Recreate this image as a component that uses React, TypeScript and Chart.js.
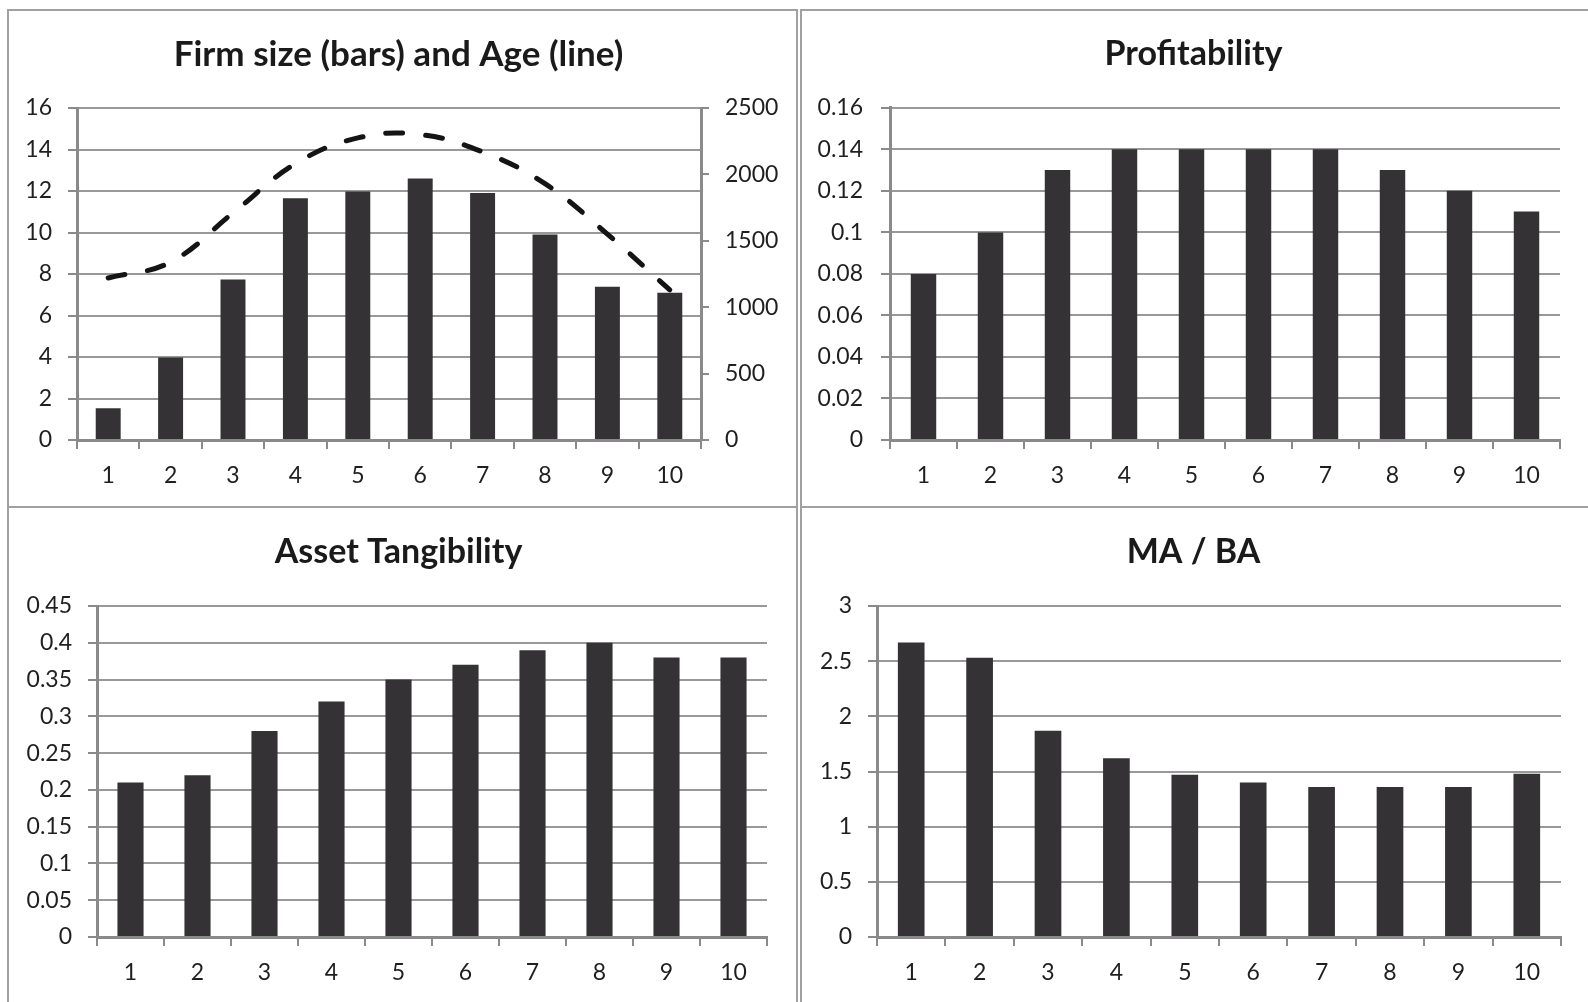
import React, { useEffect, useRef } from 'react';
import { Chart, registerables } from 'chart.js';

Chart.register(...registerables);

// ---------- data ----------
const categories = ['1', '2', '3', '4', '5', '6', '7', '8', '9', '10'];

const firmSize = [1.53, 3.97, 7.74, 11.65, 11.97, 12.6, 11.9, 9.9, 7.39, 7.1];
const firmAge = [1220, 1340, 1710, 2080, 2275, 2300, 2170, 1930, 1550, 1130];
const profitability = [0.08, 0.1, 0.13, 0.14, 0.14, 0.14, 0.14, 0.13, 0.12, 0.11];
const tangibility = [0.21, 0.22, 0.28, 0.32, 0.35, 0.37, 0.39, 0.4, 0.38, 0.38];
const maBa = [2.67, 2.53, 1.87, 1.62, 1.47, 1.4, 1.36, 1.36, 1.36, 1.48];

const titles = ['Firm size (bars) and Age (line)', 'Profitability', 'Asset Tangibility', 'MA / BA'];

// axis ranges: [min, max, step]
const sizeAxis = [0, 16, 2];
const ageAxis = [0, 2500, 500];
const profitAxis = [0, 0.16, 0.02];
const tangAxis = [0, 0.45, 0.05];
const mabaAxis = [0, 3, 0.5];

// ---------- styles ----------
const FONT = 'Lato, "Open Sans", sans-serif';
const BAR_COLOR = '#343235';
const GRID_COLOR = '#999999';
const AXIS_COLOR = '#8a8a8a';
const TEXT_COLOR = '#1f1f1f';
const BORDER_COLOR = '#a0a0a0';
const TITLE_SIZE = 34;
const TICK_SIZE = 23;

const fmt = (v: number | string) => String(Number(Number(v).toFixed(4)));

type PanelSpec = {
  left: number;
  top: number;
  w: number;
  h: number;
  leftW: number;
  rightW: number;
  xH: number;
  titleTop: number;
  titleBottom: number;
  titleSize: number;
  yPad: number;
  barPct: number;
  title: string;
  values: number[];
  axis: number[];
  line?: number[];
  lineAxis?: number[];
};

function makeConfig(p: PanelSpec): any {
  const tickFont = { family: FONT, size: TICK_SIZE };
  const datasets: any[] = [
    {
      type: 'bar',
      data: p.values,
      backgroundColor: BAR_COLOR,
      borderWidth: 0,
      categoryPercentage: 1,
      barPercentage: p.barPct,
      yAxisID: 'y',
      order: 1,
    },
  ];
  if (p.line) {
    datasets.push({
      type: 'line',
      data: p.line,
      borderColor: '#141414',
      borderWidth: 5,
      borderDash: [17, 23],
      borderCapStyle: 'round',
      pointRadius: 0,
      tension: 0.4,
      fill: false,
      yAxisID: 'y1',
      order: 0,
    });
  }
  const scales: any = {
    x: {
      type: 'category',
      offset: true,
      grid: {
        offset: true,
        drawOnChartArea: false,
        drawTicks: true,
        tickLength: 9,
        color: AXIS_COLOR,
        lineWidth: 2,
      },
      border: { display: true, color: AXIS_COLOR, width: 3 },
      ticks: { font: tickFont, color: TEXT_COLOR, padding: 13, maxRotation: 0, autoSkip: false },
      afterFit: (s: any) => {
        s.height = p.xH;
      },
    },
    y: {
      type: 'linear',
      position: 'left',
      min: p.axis[0],
      max: p.axis[1],
      grid: { color: GRID_COLOR, lineWidth: 2, drawTicks: true, tickLength: 9, tickColor: AXIS_COLOR },
      border: { display: true, color: AXIS_COLOR, width: 3 },
      ticks: {
        stepSize: p.axis[2],
        font: tickFont,
        color: TEXT_COLOR,
        padding: p.yPad,
        callback: (v: any) => fmt(v),
      },
      afterFit: (s: any) => {
        s.width = p.leftW;
      },
    },
  };
  if (p.line && p.lineAxis) {
    scales.y1 = {
      type: 'linear',
      position: 'right',
      min: p.lineAxis[0],
      max: p.lineAxis[1],
      grid: { drawOnChartArea: false, drawTicks: true, tickLength: 8, color: AXIS_COLOR, lineWidth: 2 },
      border: { display: true, color: AXIS_COLOR, width: 3 },
      ticks: {
        stepSize: p.lineAxis[2],
        font: tickFont,
        color: TEXT_COLOR,
        padding: 16,
        callback: (v: any) => fmt(v),
      },
      afterFit: (s: any) => {
        s.width = p.rightW;
      },
    };
  } else {
    scales.yR = {
      type: 'linear',
      position: 'right',
      display: true,
      grid: { display: false, drawTicks: false },
      border: { display: false },
      ticks: { display: false },
      afterFit: (s: any) => {
        s.width = p.rightW;
      },
    };
  }
  return {
    type: 'bar',
    data: { labels: categories, datasets },
    options: {
      responsive: false,
      animation: false,
      devicePixelRatio: 1,
      layout: { padding: 0 },
      plugins: {
        legend: { display: false },
        tooltip: { enabled: false },
        title: {
          display: true,
          text: p.title,
          color: '#1a1a1a',
          font: { family: FONT, size: p.titleSize, weight: 'bold', lineHeight: 1.2 },
          padding: { top: p.titleTop, bottom: p.titleBottom },
        },
      },
      scales,
    },
  };
}

function Panel({ spec }: { spec: PanelSpec }) {
  const ref = useRef<HTMLCanvasElement | null>(null);
  useEffect(() => {
    if (!ref.current) return;
    const chart = new Chart(ref.current, makeConfig(spec));
    return () => chart.destroy();
  }, [spec]);
  return (
    <canvas
      ref={ref}
      width={spec.w}
      height={spec.h}
      style={{ position: 'absolute', left: spec.left, top: spec.top, width: spec.w, height: spec.h }}
    />
  );
}

const panels: PanelSpec[] = [
  {
    left: 0, top: 0, w: 797, h: 507,
    leftW: 77, rightW: 96, xH: 67, titleTop: 33.5, titleBottom: 32.5, titleSize: 35, yPad: 16, barPct: 0.4,
    title: titles[0], values: firmSize, axis: sizeAxis, line: firmAge, lineAxis: ageAxis,
  },
  {
    left: 799, top: 0, w: 789, h: 507,
    leftW: 91, rightW: 28, xH: 67, titleTop: 34, titleBottom: 33, titleSize: TITLE_SIZE, yPad: 18, barPct: 0.38,
    title: titles[1], values: profitability, axis: profitAxis,
  },
  {
    left: 0, top: 507, w: 797, h: 495,
    leftW: 97, rightW: 30, xH: 65, titleTop: 25, titleBottom: 33.2, titleSize: TITLE_SIZE, yPad: 16, barPct: 0.39,
    title: titles[2], values: tangibility, axis: tangAxis,
  },
  {
    left: 799, top: 507, w: 789, h: 495,
    leftW: 78, rightW: 27, xH: 65, titleTop: 25, titleBottom: 33.2, titleSize: TITLE_SIZE, yPad: 16, barPct: 0.39,
    title: titles[3], values: maBa, axis: mabaAxis,
  },
];

const frames = [
  { left: 7, top: 9, width: 791, height: 499 },
  { left: 800, top: 9, width: 800, height: 499 },
  { left: 7, top: 506, width: 791, height: 520 },
  { left: 800, top: 506, width: 800, height: 520 },
];

export default function App() {
  return (
    <div
      style={{
        position: 'absolute',
        left: 0,
        top: 0,
        width: 1588,
        height: 1002,
        overflow: 'hidden',
        background: '#ffffff',
      }}
    >
      {panels.map((p, i) => (
        <Panel key={i} spec={p} />
      ))}
      {frames.map((f, i) => (
        <div
          key={'f' + i}
          style={{
            position: 'absolute',
            left: f.left,
            top: f.top,
            width: f.width,
            height: f.height,
            border: `2px solid ${BORDER_COLOR}`,
            boxSizing: 'border-box',
            pointerEvents: 'none',
          }}
        />
      ))}
    </div>
  );
}
